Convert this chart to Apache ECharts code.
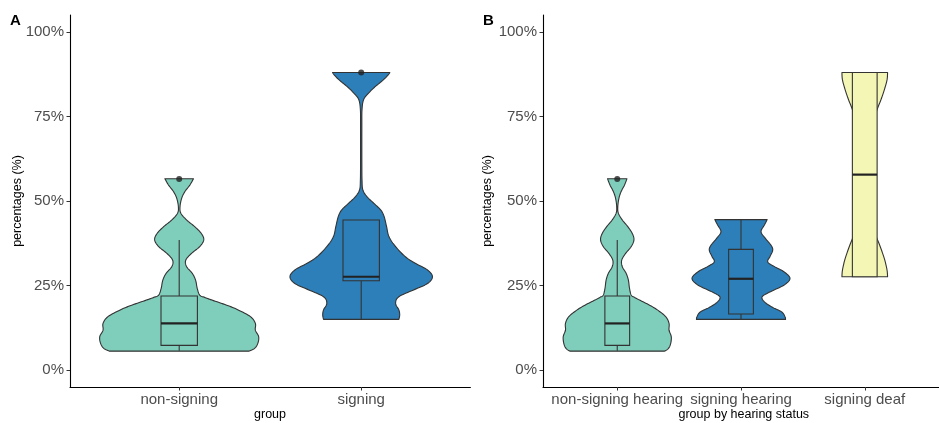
<!DOCTYPE html>
<html>
<head>
<meta charset="utf-8">
<script src="https://cdn.jsdelivr.net/npm/echarts@6/dist/echarts.min.js"></script>
<style>
html, body { margin: 0; padding: 0; background: #ffffff; }
#chart { width: 939px; height: 423px; }
</style>
</head>
<body>
<div id="chart"></div>
<script>
// Group names for each panel
const groupsA = ['non-signing', 'signing'];
const groupsB = ['non-signing hearing', 'signing hearing', 'signing deaf'];
const yTickValues = [0, 25, 50, 75, 100];

// Violin outlines: percentage levels (bottom to top) and relative half-width at each level
const nonSigningLevels = [5.6, 6.4, 7.9, 9.9, 11.8, 13.8, 15.8, 17.8, 19.2, 20.7, 21.5, 22.2, 24.2, 26.6, 28.6, 30.6, 32.5, 34.5, 36.5, 38.5, 40.4, 42.4, 44.4, 46.4, 48.3, 50.8, 52.8, 54.7, 56.6];
const nonSigningWidths = [0.85, 0.92, 0.96, 0.97, 0.93, 0.93, 0.87, 0.72, 0.58, 0.40, 0.31, 0.25, 0.22, 0.20, 0.16, 0.09, 0.08, 0.15, 0.25, 0.30, 0.27, 0.19, 0.09, 0.02, 0.01, 0.03, 0.07, 0.13, 0.175];

const signingLevels = [15.0, 16.3, 17.8, 19.7, 21.7, 23.7, 25.6, 27.6, 29.6, 31.6, 33.5, 36.5, 39.4, 42.4, 45.4, 47.3, 49.3, 51.3, 53.3, 56.2, 62.0, 72.0, 77.0, 80.0, 81.9, 83.8, 85.8, 87.3, 88.0];
const signingWidths = [0.46, 0.47, 0.46, 0.42, 0.46, 0.64, 0.81, 0.87, 0.81, 0.66, 0.54, 0.42, 0.34, 0.31, 0.28, 0.24, 0.155, 0.07, 0.02, 0.01, 0.008, 0.008, 0.01, 0.03, 0.09, 0.17, 0.27, 0.33, 0.35];

const signingHearingLevels = [15.0, 15.8, 17.2, 18.7, 20.2, 21.7, 23.2, 25.1, 27.1, 29.1, 30.6, 32.0, 33.7, 35.5, 36.9, 38.9, 40.9, 42.9, 44.5];
const signingHearingWidths = [0.80, 0.79, 0.73, 0.55, 0.42, 0.38, 0.53, 0.77, 0.88, 0.77, 0.60, 0.48, 0.525, 0.57, 0.54, 0.44, 0.36, 0.42, 0.47];

const signingDeafLevels = [27.6, 29.6, 32.5, 35.5, 38.5, 42.0, 47.0, 52.0, 57.8, 63.0, 68.0, 73.0, 77.4, 79.9, 82.8, 85.8, 88.0];
const signingDeafWidths = [0.41, 0.40, 0.36, 0.30, 0.23, 0.14, 0.05, 0.015, 0.01, 0.015, 0.05, 0.14, 0.23, 0.29, 0.35, 0.40, 0.41];

// Box-plot statistics: [lower whisker, Q1, median, Q3, upper whisker]
const nonSigningBox = [5.7, 7.3, 13.8, 21.9, 38.5];
const signingBox = [15.0, 26.4, 27.6, 44.4, 44.4];
const signingHearingBox = [15.0, 16.6, 27.0, 35.7, 44.4];
const signingDeafBox = [27.6, 27.6, 57.8, 88.0, 88.0];

// Outlying observations: [group position, value]
const outliersA = [[1, 56.5], [2, 88.0]];
const outliersB = [[1, 56.5]];

const TEAL = '#7fcdbb';
const BLUE = '#2c7fb8';
const YELLOW = '#f4f6b5';
const INK = '#333333';
const VIOLIN_HALF = 0.45;   // widest violin half-width, in category units
const BOX_HALF = 0.1;       // box half-width, in category units
const FONT = "'Liberation Sans', Arial, Helvetica, sans-serif";

const panelA = {
  colors: [TEAL, BLUE],
  shapes: [
    { levels: nonSigningLevels, widths: nonSigningWidths },
    { levels: signingLevels, widths: signingWidths }
  ],
  boxes: [nonSigningBox, signingBox]
};
const panelB = {
  colors: [TEAL, BLUE, YELLOW],
  shapes: [
    { levels: nonSigningLevels, widths: nonSigningWidths },
    { levels: signingHearingLevels, widths: signingHearingWidths },
    { levels: signingDeafLevels, widths: signingDeafWidths }
  ],
  boxes: [nonSigningBox, signingHearingBox, signingDeafBox]
};

// Catmull-Rom curve through the outline points of one violin side (pixel space)
function smoothSide(pts) {
  const out = [];
  const n = pts.length;
  const steps = 8;
  for (let i = 0; i < n - 1; i++) {
    const p0 = pts[Math.max(i - 1, 0)];
    const p1 = pts[i];
    const p2 = pts[i + 1];
    const p3 = pts[Math.min(i + 2, n - 1)];
    for (let s = 0; s < steps; s++) {
      const t = s / steps, t2 = t * t, t3 = t2 * t;
      const f = (a, b, c, d) => 0.5 * ((2 * b) + (-a + c) * t + (2 * a - 5 * b + 4 * c - d) * t2 + (-a + 3 * b - 3 * c + d) * t3);
      out.push([f(p0[0], p1[0], p2[0], p3[0]), f(p0[1], p1[1], p2[1], p3[1])]);
    }
  }
  out.push(pts[n - 1]);
  return out;
}

function violinRenderer(panel) {
  return function (params, api) {
    const i = params.dataIndex;
    const x = api.value(0);
    const s = panel.shapes[i];
    const left = [], right = [];
    for (let k = 0; k < s.levels.length; k++) {
      const hw = s.widths[k] * VIOLIN_HALF;
      left.push(api.coord([x - hw, s.levels[k]]));
      right.push(api.coord([x + hw, s.levels[k]]));
    }
    const points = smoothSide(left).concat(smoothSide(right).reverse());
    return {
      type: 'polygon',
      shape: { points: points },
      style: { fill: panel.colors[i], stroke: INK, lineWidth: 1.1, lineJoin: 'round' }
    };
  };
}

function boxRenderer(panel) {
  return function (params, api) {
    const i = params.dataIndex;
    const x = api.value(0);
    const b = panel.boxes[i];
    const lo = api.coord([x, b[0]]);
    const q1Mid = api.coord([x, b[1]]);
    const q3Mid = api.coord([x, b[3]]);
    const hi = api.coord([x, b[4]]);
    const bl = api.coord([x - BOX_HALF, b[1]]);
    const tr = api.coord([x + BOX_HALF, b[3]]);
    const mL = api.coord([x - BOX_HALF, b[2]]);
    const mR = api.coord([x + BOX_HALF, b[2]]);
    const lineStyle = { stroke: INK, lineWidth: 1.1, fill: null };
    return {
      type: 'group',
      children: [
        { type: 'line', shape: { x1: lo[0], y1: lo[1], x2: q1Mid[0], y2: q1Mid[1] }, style: lineStyle },
        { type: 'line', shape: { x1: q3Mid[0], y1: q3Mid[1], x2: hi[0], y2: hi[1] }, style: lineStyle },
        { type: 'rect', shape: { x: bl[0], y: tr[1], width: tr[0] - bl[0], height: bl[1] - tr[1] },
          style: { fill: panel.colors[i], stroke: INK, lineWidth: 1.1 } },
        { type: 'line', shape: { x1: mL[0], y1: mL[1], x2: mR[0], y2: mR[1] },
          style: { stroke: '#222222', lineWidth: 2.2 } }
      ]
    };
  };
}

function xAxisFor(gridIndex, groups) {
  const positions = groups.map((g, i) => i + 1);
  return {
    type: 'value', gridIndex: gridIndex,
    min: 0.4, max: groups.length + 0.6,
    splitLine: { show: false },
    axisLine: { show: true, onZero: false, lineStyle: { color: '#000000', width: 1.1 } },
    axisTick: { show: true, length: 3.5, customValues: positions, lineStyle: { color: INK, width: 1 } },
    axisLabel: {
      show: true, customValues: positions, margin: 5,
      formatter: v => groups[Math.round(v) - 1],
      color: '#4d4d4d', fontSize: 15, fontFamily: FONT
    }
  };
}

function yAxisFor(gridIndex) {
  return {
    type: 'value', gridIndex: gridIndex,
    min: -5, max: 105,
    splitLine: { show: false },
    axisLine: { show: true, onZero: false, lineStyle: { color: '#000000', width: 1.1 } },
    axisTick: { show: true, length: 3.5, customValues: yTickValues, lineStyle: { color: INK, width: 1 } },
    axisLabel: {
      show: true, customValues: yTickValues, margin: 6,
      formatter: v => v + '%',
      color: '#4d4d4d', fontSize: 15, fontFamily: FONT
    }
  };
}

function titleText(x, y, text, rotate) {
  return {
    type: 'text', x: x, y: y, rotation: rotate ? Math.PI / 2 : 0,
    style: {
      text: text, fill: '#000000', font: '12.5px ' + FONT,
      align: 'center', verticalAlign: 'middle',
      textAlign: 'center', textVerticalAlign: 'middle'
    }
  };
}

function panelLetter(x, y, text) {
  return {
    type: 'text', x: x, y: y,
    style: {
      text: text, fill: '#000000', font: 'bold 15px ' + FONT,
      align: 'left', verticalAlign: 'middle',
      textAlign: 'left', textVerticalAlign: 'middle'
    }
  };
}

const chart = echarts.init(document.getElementById('chart'), null, { renderer: 'canvas' });

const option = {
  animation: false,
  backgroundColor: '#ffffff',
  textStyle: { fontFamily: FONT },
  grid: [
    { left: 70, top: 15, width: 400.4, height: 372 },
    { left: 543, top: 15, width: 401.6, height: 372 }
  ],
  xAxis: [xAxisFor(0, groupsA), xAxisFor(1, groupsB)],
  yAxis: [yAxisFor(0), yAxisFor(1)],
  graphic: [
    panelLetter(10, 21, 'A'),
    panelLetter(483, 21, 'B'),
    titleText(18, 201, 'percentages (%)', true),
    titleText(488, 201, 'percentages (%)', true),
    titleText(270, 415, 'group', false),
    titleText(743.8, 415, 'group by hearing status', false)
  ],
  series: [
    {
      type: 'custom', xAxisIndex: 0, yAxisIndex: 0, z: 2,
      renderItem: violinRenderer(panelA),
      data: groupsA.map((g, i) => [i + 1, panelA.boxes[i][2]])
    },
    {
      type: 'custom', xAxisIndex: 0, yAxisIndex: 0, z: 3,
      renderItem: boxRenderer(panelA),
      data: groupsA.map((g, i) => [i + 1, panelA.boxes[i][2]])
    },
    {
      type: 'scatter', xAxisIndex: 0, yAxisIndex: 0, z: 4,
      symbolSize: 6, itemStyle: { color: '#222222' },
      data: outliersA
    },
    {
      type: 'custom', xAxisIndex: 1, yAxisIndex: 1, z: 2,
      renderItem: violinRenderer(panelB),
      data: groupsB.map((g, i) => [i + 1, panelB.boxes[i][2]])
    },
    {
      type: 'custom', xAxisIndex: 1, yAxisIndex: 1, z: 3,
      renderItem: boxRenderer(panelB),
      data: groupsB.map((g, i) => [i + 1, panelB.boxes[i][2]])
    },
    {
      type: 'scatter', xAxisIndex: 1, yAxisIndex: 1, z: 4,
      symbolSize: 6, itemStyle: { color: '#222222' },
      data: outliersB
    }
  ]
};

chart.setOption(option);
</script>
</body>
</html>
